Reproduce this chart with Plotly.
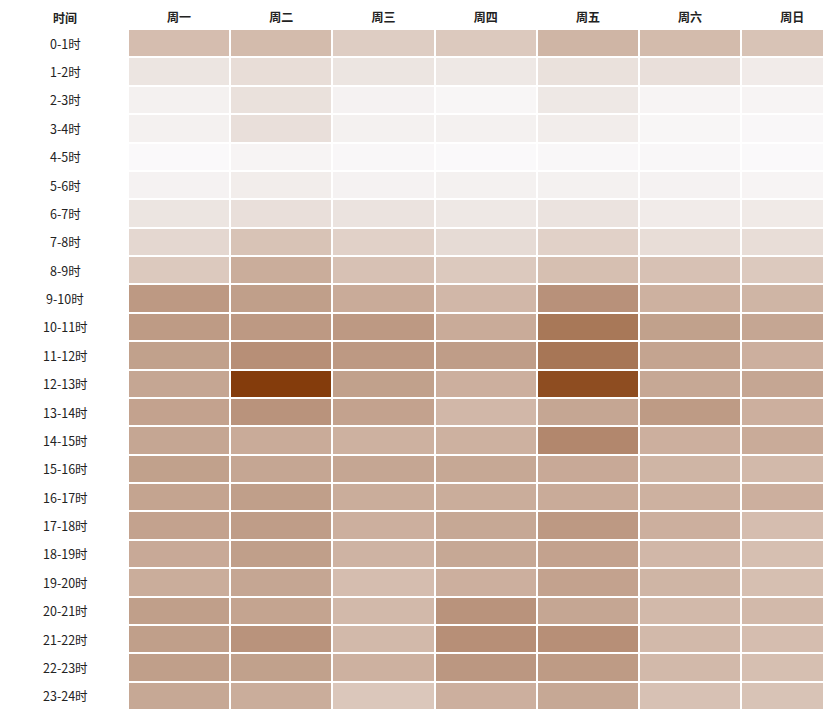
import plotly.graph_objects as go

# hour buckets (rows) and weekdays (columns)
hours = ["0-1时", "1-2时", "2-3时", "3-4时", "4-5时", "5-6时", "6-7时", "7-8时",
         "8-9时", "9-10时", "10-11时", "11-12时", "12-13时", "13-14时", "14-15时",
         "15-16时", "16-17时", "17-18时", "18-19时", "19-20时", "20-21时",
         "21-22时", "22-23时", "23-24时"]
days = ["周一", "周二", "周三", "周四", "周五", "周六", "周日"]

# relative activity index
mon = [32, 12, 5, 5, 0, 4, 12, 19, 26, 51, 50, 47, 44, 46, 44, 47, 45, 46, 42, 40, 48, 48, 48, 43]
tue = [33, 16, 14, 15, 3, 7, 15, 29, 40, 48, 51, 56, 100, 54, 41, 44, 48, 49, 48, 44, 45, 54, 47, 40]
wed = [24, 12, 4, 5, 1, 4, 13, 22, 30, 41, 51, 51, 47, 46, 38, 44, 40, 39, 37, 32, 34, 34, 38, 27]
thu = [26, 10, 2, 5, 0, 5, 10, 17, 26, 35, 41, 49, 39, 35, 38, 43, 40, 43, 43, 39, 54, 56, 52, 39]
fri = [36, 14, 10, 7, 1, 5, 13, 22, 31, 55, 68, 69, 91, 44, 60, 42, 41, 51, 46, 46, 44, 56, 50, 43]
sat = [33, 15, 3, 2, 1, 4, 8, 16, 30, 38, 47, 45, 43, 50, 39, 36, 38, 39, 35, 36, 34, 34, 34, 30]
sun = [29, 8, 3, 1, 0, 3, 9, 16, 26, 36, 44, 39, 44, 39, 41, 34, 39, 32, 31, 31, 34, 32, 31, 29]

z = [list(row) for row in zip(mon, tue, wed, thu, fri, sat, sun)]

scale = [
    [0.0, "#FAF9FA"],
    [0.13, "#EBE3DF"],
    [0.27, "#DBC7BB"],
    [0.41, "#C9AB99"],
    [0.48, "#C09F8A"],
    [0.55, "#B8917A"],
    [0.68, "#A87858"],
    [1.0, "#843C0C"],
]

fig = go.Figure()
fig.add_trace(go.Heatmap(
    z=z, x=days, y=hours,
    zmin=0, zmax=100,
    colorscale=scale,
    showscale=False,
    xgap=2, ygap=2,
))

font = "Noto Sans CJK SC, Noto Sans, sans-serif"

# row labels, centred in the left column
for h in hours:
    fig.add_annotation(x=-0.09, xref="paper", y=h, yref="y", text=h,
                       showarrow=False, xanchor="center",
                       font=dict(family=font, size=12.5, color="#222222"))
fig.add_annotation(x=-0.09, xref="paper", y=1, yref="paper", yanchor="bottom",
                   yshift=1, text="<b>时间</b>", showarrow=False, xanchor="center",
                   font=dict(family=font, size=12, color="#222222"))

fig.update_xaxes(side="top", range=[-0.5, 6.33], showgrid=False, zeroline=False,
                 ticks="", automargin=False, ticklabelstandoff=4,
                 tickfont=dict(family=font, size=12, color="#222222", weight="bold"),
                 fixedrange=True)
fig.update_yaxes(autorange="reversed", showticklabels=False, showgrid=False,
                 zeroline=False, ticks="", automargin=False, fixedrange=True)

# page body adds an 8px offset, so the figure is sized to fit inside it
fig.update_layout(
    width=823, height=705,
    margin=dict(l=120, r=5, t=21, b=3),
    plot_bgcolor="white", paper_bgcolor="white",
    font=dict(family=font),
)

fig.write_html("out.html")
